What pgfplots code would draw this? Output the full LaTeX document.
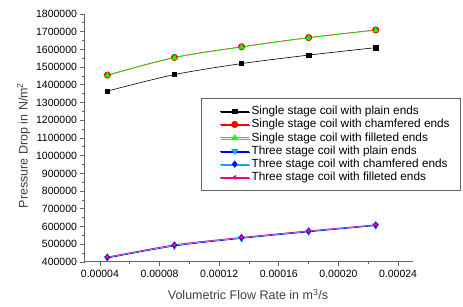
\documentclass[border=0pt]{standalone}
\usepackage{pgfplots}
\pgfplotsset{compat=1.18}
\usetikzlibrary{shadows}
\usepackage{fontspec}
\setmainfont{Liberation Sans}
\begin{document}
\begin{tikzpicture}
% x values are in units of 1e-5 m^3/s; tick labels carry the real values
\begin{axis}[
  name=ax,
  scale only axis,
  width=328pt, height=248pt,
  xmin=3, xmax=25,
  ymin=400000, ymax=1800000,
  axis lines*=left,
  axis line style={draw=black!60, line width=1pt},
  tick align=outside,
  major tick length=4.5pt, minor tick length=2.5pt,
  tick style={black!60, line width=0.8pt},
  xtick={4,8,12,16,20,24},
  xticklabels={0.00004,0.00008,0.00012,0.00016,0.00020,0.00024},
  minor x tick num=1,
  ytick={400000,500000,...,1800000},
  minor y tick num=1,
  scaled x ticks=false, scaled y ticks=false,
  yticklabel style={/pgf/number format/fixed, /pgf/number format/1000 sep={}},
  /pgf/number format/assume math mode=true,
  ticklabel style={font=\fontsize{10.5}{12}\selectfont},
  xticklabel style={yshift=-0.5pt},
  xlabel={Volumetric Flow Rate in m\textsuperscript{3}/s},
  ylabel={Pressure Drop in N/m\textsuperscript{2}},
  every axis x label/.style={at={(axis description cs:0.497,-0.153)}, anchor=base, font=\fontsize{12.5}{14}\selectfont, black!75},
  every axis y label/.style={at={(axis description cs:-0.175,0.47)}, rotate=90, anchor=base, font=\fontsize{12.5}{14}\selectfont, black!75},
  legend style={at={(axis description cs:1.1463,0.66)}, anchor=north east, draw=black!60, line width=0.7pt, font=\fontsize{11.8}{13.5}\selectfont, row sep=-0.8pt, inner ysep=5.5pt, inner xsep=9pt,
     general shadow={fill=black!45, shadow xshift=0.8pt, shadow yshift=-1.2pt}},
  legend cell align=left,
  legend image code/.code={\path (0pt,0pt); \draw[mark repeat=2,mark phase=2,line width=0.6pt] plot coordinates {(10pt,0pt)(24.5pt,0pt)(39pt,0pt)};},
  clip=false,
]
\addplot[black, line width=0.6pt, smooth, mark=square*, mark size=2.2pt, mark options={fill=black}] coordinates {
 (4.5,1365000) (9,1458000) (13.5,1520000) (18,1568000) (22.5,1610000)};
\addlegendentry{Single stage coil with plain ends}
\addplot[red, line width=0.6pt, smooth, mark=*, mark size=3.2pt, mark options={fill=red}] coordinates {
 (4.5,1455000) (9,1555000) (13.5,1615000) (18,1667000) (22.5,1710000)};
\addlegendentry{Single stage coil with chamfered ends}
\addplot[green, line width=0.6pt, smooth, mark=triangle*, mark size=3pt, mark options={fill=green}] coordinates {
 (4.5,1453000) (9,1553000) (13.5,1613000) (18,1665000) (22.5,1708000)};
\addlegendentry{Single stage coil with filleted ends}
\addplot[blue, line width=0.6pt, smooth, mark=triangle*, mark size=3.5pt, mark options={fill=cyan, draw=cyan, rotate=180}] coordinates {
 (4.5,422000) (9,490000) (13.5,533000) (18,570000) (22.5,605000)};
\addlegendentry{Three stage coil with plain ends}
\addplot[cyan, line width=0.6pt, smooth, mark=diamond*, mark size=3.2pt, mark options={fill=blue, draw=blue}] coordinates {
 (4.5,427000) (9,496000) (13.5,538000) (18,575000) (22.5,609000)};
\addlegendentry{Three stage coil with chamfered ends}
\addplot[magenta, line width=0.6pt, smooth, mark=triangle*, mark size=2.3pt, mark options={fill=magenta, draw=magenta, rotate=90}] coordinates {
 (4.5,428000) (9,497000) (13.5,539000) (18,576000) (22.5,610000)};
\addlegendentry{Three stage coil with filleted ends}
\end{axis}
\path ([xshift=-85pt,yshift=14pt]ax.north west) rectangle ([xshift=50pt,yshift=-45pt]ax.south east);
\end{tikzpicture}
\end{document}
